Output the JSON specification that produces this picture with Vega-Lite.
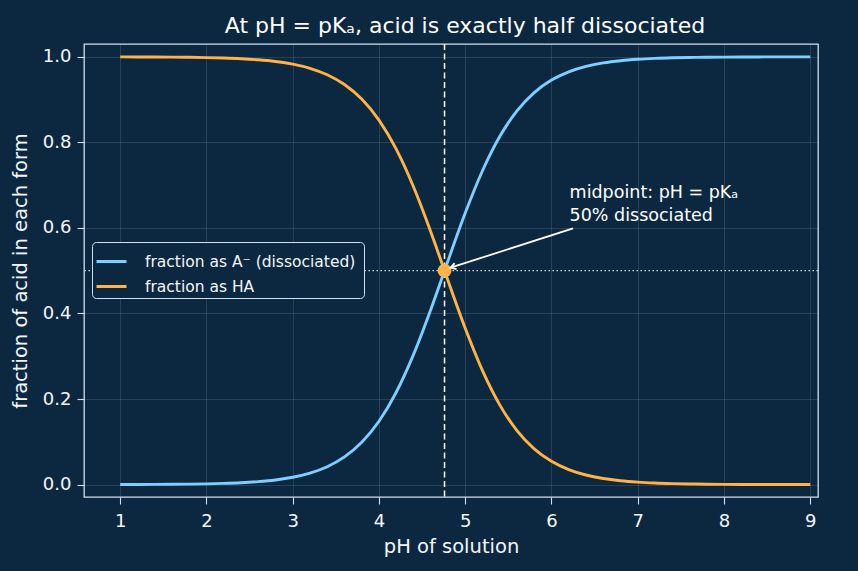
{
  "$schema": "https://vega.github.io/schema/vega-lite/v6.json",
  "width": 734,
  "height": 453,
  "autosize": {"type": "none"},
  "padding": {"left": 84, "top": 44, "right": 40, "bottom": 74},
  "background": "#0c2841",
  "title": {
    "text": "At pH = pKₐ, acid is exactly half dissociated",
    "font": "DejaVu Sans",
    "fontSize": 22,
    "fontWeight": "normal",
    "color": "#ffffff",
    "anchor": "middle",
    "offset": 5,
    "dx": 14
  },
  "config": {
    "font": "DejaVu Sans",
    "view": {"stroke": "#cfe0ee", "strokeWidth": 1.3, "fill": "#0c2841"},
    "axis": {
      "domain": false,
      "grid": true,
      "gridColor": "#ffffff",
      "gridOpacity": 0.15,
      "gridWidth": 0.8,
      "tickColor": "#cfe0ee",
      "tickSize": 7,
      "tickWidth": 1.1,
      "labelColor": "#f2f6fa",
      "labelFontSize": 18,
      "titleColor": "#f2f6fa",
      "titleFontSize": 19.5,
      "titleFontWeight": "normal"
    }
  },
  "data": {
    "values": [
      {"pH": 1.0, "a": 0.000174, "ha": 0.999826},
      {"pH": 1.2, "a": 0.000275, "ha": 0.999725},
      {"pH": 1.4, "a": 0.000436, "ha": 0.999564},
      {"pH": 1.6, "a": 0.000691, "ha": 0.999309},
      {"pH": 1.8, "a": 0.001095, "ha": 0.998905},
      {"pH": 2.0, "a": 0.001735, "ha": 0.998265},
      {"pH": 2.2, "a": 0.002746, "ha": 0.997254},
      {"pH": 2.4, "a": 0.004346, "ha": 0.995654},
      {"pH": 2.6, "a": 0.006873, "ha": 0.993127},
      {"pH": 2.8, "a": 0.010848, "ha": 0.989152},
      {"pH": 3.0, "a": 0.017082, "ha": 0.982918},
      {"pH": 3.2, "a": 0.026801, "ha": 0.973199},
      {"pH": 3.4, "a": 0.041823, "ha": 0.958177},
      {"pH": 3.6, "a": 0.064708, "ha": 0.935292},
      {"pH": 3.8, "a": 0.098814, "ha": 0.901186},
      {"pH": 4.0, "a": 0.148061, "ha": 0.851939},
      {"pH": 4.2, "a": 0.215935, "ha": 0.784065},
      {"pH": 4.4, "a": 0.303859, "ha": 0.696141},
      {"pH": 4.6, "a": 0.408931, "ha": 0.591069},
      {"pH": 4.76, "a": 0.5, "ha": 0.5},
      {"pH": 4.8, "a": 0.52299, "ha": 0.47701},
      {"pH": 5.0, "a": 0.634743, "ha": 0.365257},
      {"pH": 5.2, "a": 0.733632, "ha": 0.266368},
      {"pH": 5.4, "a": 0.81361, "ha": 0.18639},
      {"pH": 5.6, "a": 0.873713, "ha": 0.126287},
      {"pH": 5.8, "a": 0.916421, "ha": 0.083579},
      {"pH": 6.0, "a": 0.945588, "ha": 0.054412},
      {"pH": 6.2, "a": 0.964964, "ha": 0.035036},
      {"pH": 6.4, "a": 0.977604, "ha": 0.022396},
      {"pH": 6.6, "a": 0.985752, "ha": 0.014248},
      {"pH": 6.8, "a": 0.990962, "ha": 0.009038},
      {"pH": 7.0, "a": 0.994278, "ha": 0.005722},
      {"pH": 7.2, "a": 0.996382, "ha": 0.003618},
      {"pH": 7.4, "a": 0.997714, "ha": 0.002286},
      {"pH": 7.6, "a": 0.998557, "ha": 0.001443},
      {"pH": 7.8, "a": 0.999089, "ha": 0.000911},
      {"pH": 8.0, "a": 0.999425, "ha": 0.000575},
      {"pH": 8.2, "a": 0.999637, "ha": 0.000363},
      {"pH": 8.4, "a": 0.999771, "ha": 0.000229},
      {"pH": 8.6, "a": 0.999855, "ha": 0.000145},
      {"pH": 8.8, "a": 0.999909, "ha": 0.000091},
      {"pH": 9.0, "a": 0.999942, "ha": 0.000058}
    ]
  },
  "layer": [
    {
      "data": {"values": [{}]},
      "mark": {"type": "rule", "strokeDash": [1.5, 2.5], "strokeWidth": 1.2, "color": "#cfe0ee"},
      "encoding": {"y": {"datum": 0.5, "type": "quantitative"}}
    },
    {
      "transform": [
        {"fold": ["a", "ha"], "as": ["form", "frac"]}
      ],
      "mark": {"type": "line", "strokeWidth": 2.9, "interpolate": "monotone"},
      "encoding": {
        "x": {
          "field": "pH",
          "type": "quantitative",
          "title": "pH of solution",
          "scale": {"domain": [0.58, 9.09], "nice": false, "zero": false},
          "axis": {"values": [1, 2, 3, 4, 5, 6, 7, 8, 9], "format": "d", "labelPadding": 8, "titlePadding": 7}
        },
        "y": {
          "field": "frac",
          "type": "quantitative",
          "title": "fraction of acid in each form",
          "scale": {"domain": [-0.029, 1.03], "nice": false, "zero": false},
          "axis": {"values": [0, 0.2, 0.4, 0.6, 0.8, 1.0], "format": ".1f", "labelPadding": 6, "titlePadding": 12}
        },
        "color": {
          "field": "form",
          "type": "nominal",
          "scale": {"domain": ["a", "ha"], "range": ["#7ccfff", "#ffb347"]},
          "legend": {
            "title": null,
            "orient": "none",
            "legendX": 8,
            "legendY": 198,
            "labelExpr": "datum.value === 'a' ? 'fraction as A⁻  (dissociated)' : 'fraction as HA'",
            "labelColor": "#f2f6fa",
            "labelFontSize": 15.5,
            "labelFont": "DejaVu Sans",
            "labelLimit": 400,
            "labelOffset": 17,
            "symbolType": "stroke",
            "symbolSize": 900,
            "symbolStrokeWidth": 3,
            "rowPadding": -6,
            "fillColor": "#0c2841",
            "strokeColor": "#cfe0ee",
            "cornerRadius": 4,
            "padding": 3
          }
        }
      }
    },
    {
      "data": {"values": [{}]},
      "mark": {"type": "rule", "strokeDash": [6, 3.5], "strokeWidth": 1.5, "color": "#ffffff"},
      "encoding": {"x": {"datum": 4.76, "type": "quantitative"}}
    },
    {
      "data": {"values": [{}]},
      "mark": {"type": "point", "filled": true, "size": 190, "color": "#ffb347", "opacity": 1},
      "encoding": {
        "x": {"datum": 4.76, "type": "quantitative"},
        "y": {"datum": 0.5, "type": "quantitative"}
      }
    },
    {
      "data": {"values": [{}]},
      "mark": {"type": "rule", "strokeWidth": 1.8, "color": "#ffffff"},
      "encoding": {
        "x": {"datum": 6.25, "type": "quantitative"},
        "y": {"datum": 0.599, "type": "quantitative"},
        "x2": {"datum": 4.83},
        "y2": {"datum": 0.507}
      }
    },
    {
      "data": {"values": [{}]},
      "mark": {
        "type": "point",
        "shape": "M-1,-0.6L0,0L-1,0.6",
        "filled": false,
        "size": 110,
        "strokeWidth": 1.8,
        "color": "#ffffff",
        "opacity": 1,
        "angle": 162
      },
      "encoding": {
        "x": {"datum": 4.83, "type": "quantitative"},
        "y": {"datum": 0.507, "type": "quantitative"}
      }
    },
    {
      "data": {"values": [{}]},
      "mark": {
        "type": "text",
        "align": "left",
        "baseline": "alphabetic",
        "fontSize": 17.5,
        "color": "#ffffff",
        "lineHeight": 22.5,
        "text": ["midpoint: pH = pKₐ", "50% dissociated"]
      },
      "encoding": {
        "x": {"datum": 6.21, "type": "quantitative"},
        "y": {"datum": 0.669, "type": "quantitative"}
      }
    }
  ]
}
